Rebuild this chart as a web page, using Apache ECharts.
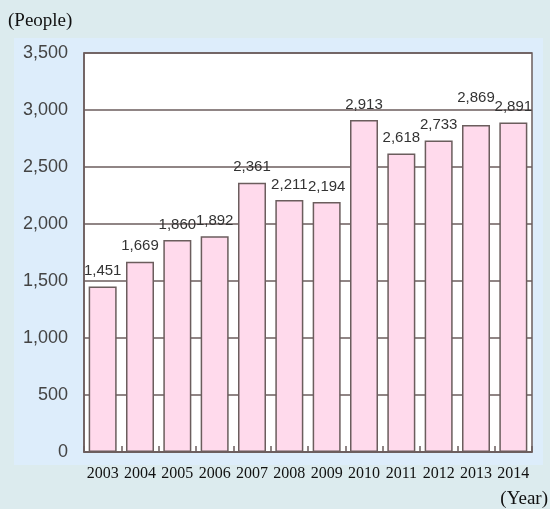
<!DOCTYPE html>
<html>
<head>
<meta charset="utf-8">
<script src="https://cdn.jsdelivr.net/npm/echarts@6/dist/echarts.min.js"></script>
<style>
  html, body { margin: 0; padding: 0; background: #dcebee; }
  #chart { width: 550px; height: 509px; }
</style>
</head>
<body>
<div id="chart"></div>
<script>
// data
var years = ['2003', '2004', '2005', '2006', '2007', '2008', '2009', '2010', '2011', '2012', '2013', '2014'];
var people = [1451, 1669, 1860, 1892, 2361, 2211, 2194, 2913, 2618, 2733, 2869, 2891];

var lineColor = '#6b5d5d';

var chart = echarts.init(document.getElementById('chart'));
chart.setOption({
  backgroundColor: '#dcebee',
  animation: false,
  graphic: [
    // lighter panel behind the plot
    { type: 'rect', z: -10, shape: { x: 14, y: 38, width: 529, height: 427 }, style: { fill: '#ddedfb' } },
    { type: 'text', left: 8, top: 12, style: { text: '(People)', font: '19px "Liberation Serif"', fill: '#111' } },
    { type: 'text', right: 2, top: 490, style: { text: '(Year)', font: '19px "Liberation Serif"', fill: '#111' } }
  ],
  grid: {
    left: 84, right: 18, top: 53, bottom: 57,
    show: true, backgroundColor: '#fff', borderColor: lineColor, borderWidth: 1.5
  },
  xAxis: {
    type: 'category',
    data: years,
    axisLine: { lineStyle: { color: lineColor, width: 1.5 } },
    axisTick: { show: true, inside: true, length: 6, lineStyle: { color: lineColor, width: 1.5 } },
    axisLabel: { interval: 0, margin: 14, fontFamily: 'Liberation Serif', fontSize: 16, color: '#111' }
  },
  yAxis: {
    type: 'value',
    min: 0, max: 3500, interval: 500,
    axisLine: { show: true, lineStyle: { color: lineColor, width: 1.5 } },
    axisTick: { show: false },
    splitLine: { lineStyle: { color: lineColor, width: 1.5 } },
    axisLabel: {
      margin: 16, fontFamily: 'Liberation Sans', fontSize: 18, color: '#444',
      formatter: function (v) { return v.toLocaleString('en-US'); }
    }
  },
  series: [{
    type: 'bar',
    data: people.map(function (v, i) {
      // the 2013 label sits higher in the original
      return i === 10 ? { value: v, label: { distance: 20 } } : v;
    }),
    barWidth: 28,
    itemStyle: { color: '#ffdaec', borderColor: lineColor, borderWidth: 1.5 },
    label: {
      show: true, position: 'top', distance: 8,
      fontFamily: 'Liberation Sans', fontSize: 15, color: '#333',
      formatter: function (p) { return p.value.toLocaleString('en-US'); }
    }
  }]
});
</script>
</body>
</html>
